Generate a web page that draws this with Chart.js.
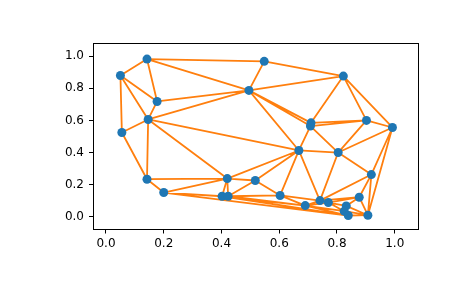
<!DOCTYPE html>
<html>
<head>
<meta charset="utf-8">
<script src="https://cdn.jsdelivr.net/npm/chart.js@4/dist/chart.umd.min.js"></script>
<style>
  body { margin: 0; background: #fff; }
</style>
</head>
<body>
<canvas id="canvas" width="465" height="288"></canvas>
<script>
// point coordinates
const xs = [0.142, 0.050, 0.177, 0.146, 0.055, 0.548, 0.495, 0.710, 0.708, 0.822,
            0.902, 0.992, 0.142, 0.200, 0.420, 0.517, 0.402, 0.423, 0.603, 0.690,
            0.668, 0.804, 0.919, 0.877, 0.741, 0.770, 0.832, 0.825, 0.839, 0.907];
const ys = [0.982, 0.880, 0.718, 0.606, 0.525, 0.968, 0.787, 0.585, 0.565, 0.876,
            0.600, 0.556, 0.234, 0.151, 0.238, 0.226, 0.128, 0.128, 0.133, 0.070,
            0.413, 0.400, 0.263, 0.122, 0.101, 0.089, 0.068, 0.035, 0.008, 0.010];
const xTicks = [0.0, 0.2, 0.4, 0.6, 0.8, 1.0];
const yTicks = [0.0, 0.2, 0.4, 0.6, 0.8, 1.0];

// Delaunay triangulation (Bowyer-Watson), same thing triplot shows
function delaunay(px, py) {
  const X = px.slice(), Y = py.slice();
  const n = X.length;
  const big = 1e4;
  X.push(-big, big, 0.5); Y.push(-big, -big, big);
  let tris = [[n, n + 1, n + 2]];
  function inCircle(t, x, y) {
    const [a, b, c] = t;
    const ax = X[a] - x, ay = Y[a] - y;
    const bx = X[b] - x, by = Y[b] - y;
    const cx = X[c] - x, cy = Y[c] - y;
    const det = (ax * ax + ay * ay) * (bx * cy - cx * by)
              - (bx * bx + by * by) * (ax * cy - cx * ay)
              + (cx * cx + cy * cy) * (ax * by - bx * ay);
    const orient = (X[b] - X[a]) * (Y[c] - Y[a]) - (Y[b] - Y[a]) * (X[c] - X[a]);
    return orient > 0 ? det > 0 : det < 0;
  }
  for (let i = 0; i < n; i++) {
    const bad = [], keep = [];
    tris.forEach(t => (inCircle(t, X[i], Y[i]) ? bad : keep).push(t));
    const count = {};
    bad.forEach(t => {
      [[t[0], t[1]], [t[1], t[2]], [t[2], t[0]]].forEach(e => {
        const k = Math.min(e[0], e[1]) + "_" + Math.max(e[0], e[1]);
        count[k] = (count[k] || 0) + 1;
      });
    });
    bad.forEach(t => {
      [[t[0], t[1]], [t[1], t[2]], [t[2], t[0]]].forEach(e => {
        const k = Math.min(e[0], e[1]) + "_" + Math.max(e[0], e[1]);
        if (count[k] === 1) keep.push([e[0], e[1], i]);
      });
    });
    tris = keep;
  }
  const edges = {};
  tris.filter(t => t.every(v => v < n)).forEach(t => {
    [[t[0], t[1]], [t[1], t[2]], [t[2], t[0]]].forEach(e => {
      edges[Math.min(e[0], e[1]) + "_" + Math.max(e[0], e[1])] = [e[0], e[1]];
    });
  });
  return Object.values(edges);
}

const edgeData = [];
delaunay(xs, ys).forEach(([a, b]) => {
  edgeData.push({ x: xs[a], y: ys[a] }, { x: xs[b], y: ys[b] }, { x: null, y: null });
});
const pointData = xs.map((x, i) => ({ x: x, y: ys[i] }));

const frame = {
  id: "frame",
  afterDraw(chart) {
    const { ctx, chartArea: a } = chart;
    ctx.save();
    ctx.strokeStyle = "#000";
    ctx.lineWidth = 1;
    ctx.strokeRect(Math.round(a.left) + 0.5, Math.round(a.top) + 0.5,
      Math.round(a.right - a.left) - 1, Math.round(a.bottom - a.top) - 1);
    ctx.restore();
  },
};

const tickFont = { family: "DejaVu Sans", size: 12 };

new Chart(document.getElementById("canvas"), {
  type: "scatter",
  data: {
    datasets: [
      {
        data: pointData,
        order: 0,
        backgroundColor: "#1f77b4",
        borderColor: "#1f77b4",
        borderWidth: 0,
        pointRadius: 4.5,
      },
      {
        data: edgeData,
        order: 1,
        showLine: true,
        spanGaps: false,
        borderColor: "#ff7f0e",
        borderWidth: 1.8,
        pointRadius: 0,
      },
    ],
  },
  options: {
    responsive: false,
    animation: false,
    layout: { padding: { left: 0, top: 43, right: 46, bottom: 0 } },
    plugins: { legend: { display: false }, tooltip: { enabled: false } },
    scales: {
      x: {
        type: "linear",
        min: -0.045,
        max: 1.084,
        afterBuildTicks: s => { s.ticks = xTicks.map(v => ({ value: v })); },
        afterFit: s => { s.height = 58.5; },
        border: { display: false },
        grid: { drawOnChartArea: false, drawTicks: true, tickLength: 4, color: "#000" },
        ticks: { color: "#000", font: tickFont, padding: 3, maxRotation: 0,
                 callback: v => v.toFixed(1) },
      },
      y: {
        type: "linear",
        min: -0.079,
        max: 1.082,
        afterBuildTicks: s => { s.ticks = yTicks.map(v => ({ value: v })); },
        afterFit: s => { s.width = 93; },
        border: { display: false },
        grid: { drawOnChartArea: false, drawTicks: true, tickLength: 4, color: "#000" },
        ticks: { color: "#000", font: tickFont, padding: 5,
                 callback: v => v.toFixed(1) },
      },
    },
  },
  plugins: [frame],
});
</script>
</body>
</html>
